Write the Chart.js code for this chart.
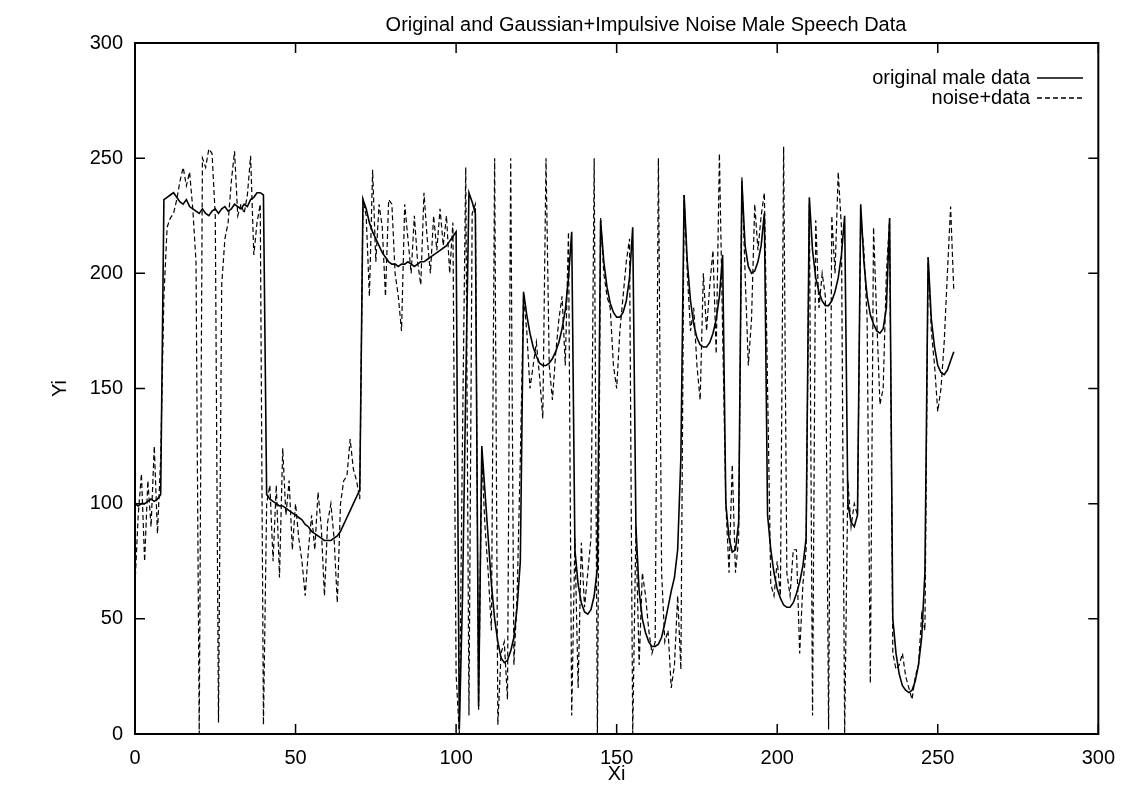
<!DOCTYPE html>
<html>
<head>
<meta charset="utf-8">
<script src="https://cdn.jsdelivr.net/npm/chart.js@4.4.1/dist/chart.umd.min.js"></script>
<style>
  body { margin: 0; background: #fff; }
  #grafico { display: block; }
</style>
</head>
<body>
<canvas id="grafico" width="1127" height="786"></canvas>
<script>
// valores (x = 0..255)
const tituloGrafico = 'Original and Gaussian+Impulsive Noise Male Speech Data';
const nomesSeries = ['original male data', 'noise+data'];
const ticksX = [0, 50, 100, 150, 200, 250, 300];
const ticksY = [0, 50, 100, 150, 200, 250, 300];

const dadosOriginal = [
    100, 99, 100, 100, 101, 102, 101, 102, 104, 232,
    233, 234, 235, 233, 231, 230, 232, 229, 228, 227,
    226, 228, 226, 225, 227, 228, 226, 228, 229, 227,
    228, 230, 229, 228, 230, 229, 232, 233, 235, 235,
    234, 104, 102, 101, 100, 99, 99, 98, 97, 96,
    95, 94, 93, 91, 90, 88, 87, 86, 85, 84,
    84, 84, 85, 86, 88, 91, 94, 97, 100, 103,
    106, 232, 228, 222, 218, 215, 212, 209, 207, 205,
    204, 204, 203, 204, 204, 205, 204, 203, 204, 205,
    205, 206, 207, 208, 209, 210, 211, 212, 214, 216,
    218, 2, 60, 150, 235, 231, 226, 12, 125, 105,
    85, 65, 50, 40, 33, 31, 32, 36, 42, 55,
    75, 192, 182, 174, 168, 164, 161, 160, 160, 161,
    163, 166, 170, 176, 184, 198, 218, 80, 65, 57,
    53, 52, 54, 60, 72, 223, 205, 194, 187, 183,
    181, 181, 183, 188, 198, 220, 90, 62, 50, 44,
    40, 38, 38, 39, 42, 48, 55, 62, 68, 80,
    120, 234, 205, 188, 178, 172, 169, 168, 168, 170,
    174, 180, 190, 208, 100, 85, 79, 80, 92, 240,
    212, 203, 200, 201, 205, 212, 226, 95, 80, 70,
    63, 59, 56, 55, 55, 57, 61, 66, 73, 85,
    233, 210, 198, 192, 188, 186, 186, 188, 192, 198,
    208, 225, 100, 92, 90, 95, 230, 205, 190, 182,
    178, 175, 174, 176, 185, 224, 50, 35, 26, 21,
    19, 18, 19, 23, 30, 42, 70, 207, 180, 168,
    160, 157, 156, 158, 162, 166
];

const dadosRuido = [
    65, 95, 113, 75, 110, 90, 125, 87, 120, 190,
    220, 224, 226, 232, 240, 246, 238, 244, 228, 205,
    0, 250, 246, 254, 252, 225, 5, 195, 215, 222,
    240, 253, 225, 230, 226, 234, 251, 208, 222, 230,
    4, 100, 108, 75, 108, 68, 124, 95, 110, 80,
    100, 85, 75, 60, 80, 95, 80, 105, 90, 60,
    92, 100, 85, 57, 100, 110, 112, 128, 115, 110,
    102, 232, 225, 190, 245, 205, 230, 220, 190, 232,
    230, 200, 190, 175, 230, 215, 200, 225, 205, 195,
    235, 215, 200, 225, 210, 228, 212, 225, 200, 222,
    26, 0, 130, 246, 8, 226, 230, 10, 120, 90,
    70, 45, 250, 4, 35, 40, 15, 250, 30, 60,
    120, 190, 175, 150, 160, 170, 155, 137, 250, 160,
    145, 165, 180, 190, 160, 218, 8, 85, 20, 83,
    55, 70, 85, 250, 0, 224, 200, 190, 185, 160,
    150, 175, 190, 205, 215, 0, 90, 30, 70, 60,
    45, 35, 40, 250, 70, 40, 45, 20, 30, 60,
    28, 234, 200, 175, 185, 160, 145, 200, 175, 195,
    210, 165, 252, 175, 100, 70, 117, 70, 85, 242,
    200, 160, 180, 230, 210, 225, 235, 150, 65, 60,
    75, 60, 255, 70, 60, 80, 80, 35, 65, 80,
    230, 8, 223, 185, 200, 190, 2, 225, 200, 244,
    220, 0, 110, 90, 100, 95, 225, 210, 180, 22,
    220, 180, 143, 150, 200, 224, 35, 28, 30, 35,
    25, 20, 15, 25, 30, 52, 45, 207, 175, 160,
    140, 150, 170, 200, 229, 192
];

const fonte = "'Liberation Sans', Arial, sans-serif";
Chart.defaults.font.family = fonte;
Chart.defaults.color = '#000';

const pontosOriginal = dadosOriginal.map((v, i) => ({ x: i, y: v }));
const pontosRuido = dadosRuido.map((v, i) => ({ x: i, y: v }));

// moldura, ticks para dentro, titulo e legenda no estilo gnuplot
const molduraPlugin = {
    id: 'moldura',
    afterDatasetsDraw(chart) {
        const ctx = chart.ctx;
        const a = chart.chartArea;
        const sx = chart.scales.x;
        const sy = chart.scales.y;
        ctx.save();
        ctx.strokeStyle = '#000';
        ctx.lineWidth = 2;
        ctx.setLineDash([]);
        ctx.strokeRect(a.left, a.top, a.right - a.left, a.bottom - a.top);

        ctx.lineWidth = 1.5;
        ctx.beginPath();
        ticksX.forEach(v => {
            const px = sx.getPixelForValue(v);
            ctx.moveTo(px, a.bottom); ctx.lineTo(px, a.bottom - 10);
            ctx.moveTo(px, a.top); ctx.lineTo(px, a.top + 10);
        });
        ticksY.forEach(v => {
            const py = sy.getPixelForValue(v);
            ctx.moveTo(a.left, py); ctx.lineTo(a.left + 10, py);
            ctx.moveTo(a.right, py); ctx.lineTo(a.right - 10, py);
        });
        ctx.stroke();

        // titulo
        ctx.fillStyle = '#000';
        ctx.font = '20px ' + fonte;
        ctx.textAlign = 'center';
        ctx.textBaseline = 'middle';
        ctx.fillText(tituloGrafico, 646, 25);

        // legenda
        const estilos = [[], [5, 3]];
        nomesSeries.forEach((nome, i) => {
            const ly = 78 + i * 20;
            ctx.textAlign = 'right';
            ctx.fillText(nome, 1030, ly);
            ctx.lineWidth = 1.3;
            ctx.setLineDash(estilos[i]);
            ctx.beginPath();
            ctx.moveTo(1037, ly);
            ctx.lineTo(1083, ly);
            ctx.stroke();
        });
        ctx.restore();
    }
};

const dados = {
    datasets: [{
        label: nomesSeries[0],
        data: pontosOriginal,
        borderColor: '#000',
        borderWidth: 1.6,
        pointRadius: 0,
        tension: 0,
        fill: false
    }, {
        label: nomesSeries[1],
        data: pontosRuido,
        borderColor: '#000',
        borderWidth: 1.2,
        borderDash: [5, 3],
        pointRadius: 0,
        tension: 0,
        fill: false
    }]
};

const config = {
    type: 'line',
    data: dados,
    options: {
        responsive: false,
        animation: false,
        devicePixelRatio: 1,
        layout: { padding: { top: 43, right: 23, left: 0, bottom: 0 } },
        plugins: {
            legend: { display: false },
            tooltip: { enabled: false }
        },
        scales: {
            x: {
                type: 'linear',
                min: 0,
                max: 300,
                grid: { display: false, drawTicks: false },
                border: { display: false },
                ticks: { stepSize: 50, padding: 12, font: { size: 20 }, maxRotation: 0 },
                title: { display: true, text: 'Xi', font: { size: 20 }, padding: { top: 0, bottom: 0 } },
                afterFit: scale => { scale.height = 52; }
            },
            y: {
                min: 0,
                max: 300,
                grid: { display: false, drawTicks: false },
                border: { display: false },
                ticks: { stepSize: 50, padding: 12, font: { size: 20 } },
                title: { display: true, text: 'Yi', font: { size: 20 }, padding: { top: 48, bottom: 0 } },
                afterFit: scale => { scale.width = 135; }
            }
        }
    },
    plugins: [molduraPlugin]
};

const grafico = new Chart(document.getElementById('grafico'), config);
</script>
</body>
</html>
